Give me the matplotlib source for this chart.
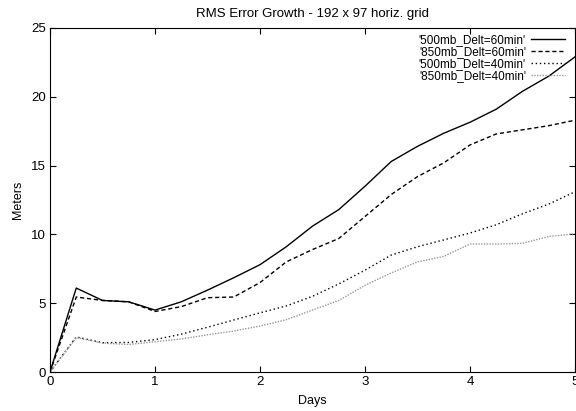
import matplotlib
matplotlib.use("Agg")
import matplotlib.pyplot as plt

plt.rcParams['font.family'] = ['Liberation Sans', 'DejaVu Sans']

days = [0, 0.25, 0.5, 0.75, 1, 1.25, 1.5, 1.75, 2, 2.25, 2.5, 2.75, 3, 3.25,
        3.5, 3.75, 4, 4.25, 4.5, 4.75, 5]
s500_60 = [0, 6.1, 5.2, 5.1, 4.5, 5.1, 5.95, 6.85, 7.8, 9.1, 10.6, 11.8, 13.5,
           15.3, 16.4, 17.35, 18.15, 19.1, 20.4, 21.5, 22.9]
s850_60 = [0, 5.45, 5.2, 5.1, 4.4, 4.75, 5.4, 5.45, 6.5, 8.0, 8.9, 9.7, 11.3,
           12.9, 14.2, 15.2, 16.5, 17.3, 17.6, 17.9, 18.3]
s500_40 = [0, 2.55, 2.13, 2.15, 2.35, 2.75, 3.25, 3.78, 4.3, 4.8, 5.5, 6.4, 7.4,
           8.5, 9.1, 9.6, 10.1, 10.7, 11.5, 12.2, 13.1]
s850_40 = [0, 2.5, 2.1, 2.0, 2.2, 2.4, 2.7, 2.98, 3.34, 3.8, 4.5, 5.2, 6.3,
           7.2, 8.0, 8.4, 9.3, 9.3, 9.35, 9.85, 10.05]
labels = ["'500mb_Delt=60min'", "'850mb_Delt=60min'",
          "'500mb_Delt=40min'", "'850mb_Delt=40min'"]

fig = plt.figure(figsize=(5.76, 4.11), dpi=100)
ax = fig.add_axes([50/576, 1-372/411, 525/576, 344/411])

ax.plot(days, s500_60, color='black', lw=1.0, ls='-', label=labels[0])
ax.plot(days, s850_60, color='black', lw=1.0, ls=(0, (3, 2)), label=labels[1])
ax.plot(days, s500_40, color='black', lw=1.0, ls=(0, (1, 2)), label=labels[2])
ax.plot(days, s850_40, color='#999999', lw=1.0, ls=(0, (1, 1)), label=labels[3])

ax.set_xlim(0, 5)
ax.set_ylim(0, 25)
ax.set_xticks([0, 1, 2, 3, 4, 5])
ax.set_yticks([0, 5, 10, 15, 20, 25])
ax.tick_params(direction='in', top=True, right=True, labelsize=9.5, length=4, width=0.8, pad=3)
ax.set_xlabel('Days', fontsize=9, labelpad=5)
ax.set_ylabel('Meters', fontsize=9, labelpad=5)
ax.set_title('RMS Error Growth - 192 x 97 horiz. grid', fontsize=9.5, pad=8)
for s in ax.spines.values():
    s.set_linewidth(0.8)

leg = ax.legend(loc='upper right', frameon=False, markerfirst=False, fontsize=8.5,
                handlelength=2.9, labelspacing=0.0, handletextpad=0.4,
                borderaxespad=0.1, bbox_to_anchor=(0.992, 1.0))
for t in leg.get_texts():
    t.set_ha('right')

fig.savefig('out.png', dpi=100)
